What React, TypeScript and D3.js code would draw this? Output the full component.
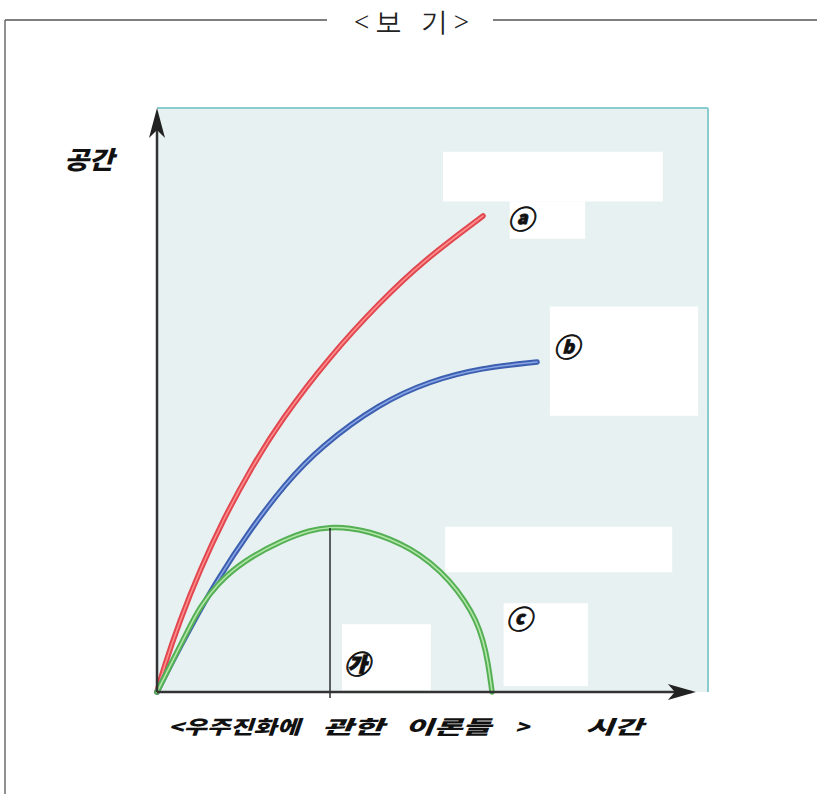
import React from "react";
import * as d3 from "d3";

// Data (time %, space %)
const redTime = [0, 1.09, 4.17, 7.8, 11.98, 16.88, 22.5, 31.4, 40.47, 48.28, 59.17];
const redSpace = [0, 3.77, 12.33, 20.89, 29.45, 38.01, 46.58, 57.53, 66.78, 73.8, 81.51];
const blueTime = [0, 2.36, 5.99, 10.89, 16.88, 23.23, 29.58, 40.47, 49.55, 58.62, 68.97];
const blueSpace = [0, 4.45, 10.96, 19.18, 27.74, 35.62, 41.95, 49.49, 53.25, 55.48, 56.51];
const greenTime = [0, 2.36, 5.63, 7.8, 10.89, 15.61, 22.87, 27.77, 31.4, 35.03, 38.66, 42.29, 45.92, 49.55, 53.18, 55.9, 57.89, 59.17, 60.07, 60.8];
const greenSpace = [0, 4.45, 10.62, 14.55, 18.49, 22.43, 26.03, 27.74, 28.25, 28.08, 27.4, 26.2, 24.57, 22.26, 19.01, 15.58, 12.33, 8.9, 5.14, 0];
const peakTime = 31.4;
const peakSpace = 28.25;

const curveLabels = ["ⓐ", "ⓑ", "ⓒ", "㉮"];
const labelPos = [
  [66.0, 81.2],
  [74.3, 59.4],
  [65.7, 12.8],
  [36.3, 5.0],
];
// white cover boxes [t0, s1, t1, s0]
const boxes = [
  [51.9, 92.5, 91.8, 84.0],
  [64.0, 84.0, 77.7, 77.6],
  [71.3, 66.0, 98.2, 47.3],
  [52.3, 28.3, 93.5, 20.5],
  [62.9, 15.2, 78.2, 1.0],
  [33.6, 11.6, 49.7, 0.3],
];

const title = "<보 기>";
const yTitle = "공간";
const xTitle = "시간";
const captionWords = ["<우주진화에", "관한", "이론들", ">"];

export default function App() {
  const W = 817, H = 794;
  const x = d3.scaleLinear().domain([0, 100]).range([157, 708]);
  const y = d3.scaleLinear().domain([0, 100]).range([692, 108]);
  const line = d3
    .line<[number, number]>()
    .x((d) => x(d[0]))
    .y((d) => y(d[1]))
    .curve(d3.curveBasis);
  const zip = (a: number[], b: number[]) => a.map((v, i) => [v, b[i]] as [number, number]);
  const series = [
    { p: line(zip(redTime, redSpace)), outer: "#e0474f", inner: "#ff8d8d" },
    { p: line(zip(blueTime, blueSpace)), outer: "#3d5fb0", inner: "#8aa6e6" },
    { p: line(zip(greenTime, greenSpace)), outer: "#55b055", inner: "#b2e6a8" },
  ];
  const fontKR = "'Noto Sans CJK KR', sans-serif";
  // caption word layout [x, width]
  const capLayout = [
    [168, 132],
    [322, 62],
    [405, 86],
    [515, 14],
  ];
  return (
    <svg width={W} height={H} style={{ position: "absolute", left: 0, top: 0, background: "#fff" }}>
      {/* frame */}
      <line x1={5} y1={20} x2={327} y2={20} stroke="#555" strokeWidth={1.3} />
      <line x1={493} y1={20} x2={817} y2={20} stroke="#555" strokeWidth={1.3} />
      <line x1={5} y1={20} x2={5} y2={794} stroke="#555" strokeWidth={1.3} />
      <text x={354} y={31} fontFamily="serif" fontSize={27} fill="#222" textLength={115} lengthAdjust="spacing">
        {title}
      </text>
      {/* plot area */}
      <rect x={x(0)} y={y(100)} width={x(100) - x(0)} height={y(0) - y(100)} fill="#e7f1f1" />
      <line x1={x(0)} y1={y(100)} x2={x(100)} y2={y(100)} stroke="#8ccbcf" strokeWidth={2} />
      <line x1={x(100)} y1={y(100)} x2={x(100)} y2={y(0)} stroke="#8ccbcf" strokeWidth={2} />
      {boxes.map((b, i) => (
        <rect key={i} x={x(b[0])} y={y(b[1])} width={x(b[2]) - x(b[0])} height={y(b[3]) - y(b[1])} fill="#ffffff" />
      ))}
      {/* curves */}
      {series.map((s, i) => (
        <g key={i}>
          <path d={s.p || ""} fill="none" stroke={s.outer} strokeWidth={5.5} strokeLinecap="round" />
          <path d={s.p || ""} fill="none" stroke={s.inner} strokeWidth={1.6} strokeLinecap="round" />
        </g>
      ))}
      <line x1={x(peakTime)} y1={y(peakSpace) + 1} x2={x(peakTime)} y2={y(0) + 6} stroke="#111" strokeWidth={1.3} />
      {/* axes */}
      <line x1={x(0)} y1={y(0)} x2={x(0)} y2={y(100) + 10} stroke="#333" strokeWidth={2.5} />
      <path d={`M${x(0)},${y(100)} L${x(0) - 8},${y(100) + 30} L${x(0)},${y(100) + 22} L${x(0) + 8},${y(100) + 30} Z`} fill="#222" />
      <line x1={x(0)} y1={y(0)} x2={x(97)} y2={y(0)} stroke="#333" strokeWidth={2.5} />
      <path d={`M${x(97.8)},${y(0)} L${x(97.8) - 28},${y(0) - 8} L${x(97.8) - 21},${y(0)} L${x(97.8) - 28},${y(0) + 8} Z`} fill="#222" />
      {/* curve labels */}
      {curveLabels.map((l, i) => (
        <text key={i} x={x(labelPos[i][0])} y={y(labelPos[i][1])} textAnchor="middle" dominantBaseline="central"
          fontFamily={fontKR} fontWeight={900} fontStyle="italic" fontSize={26} fill="#111" stroke="#111" strokeWidth={0.8}>
          {l}
        </text>
      ))}
      {/* axis titles */}
      <text x={64} y={169} fontFamily={fontKR} fontWeight={900} fontStyle="italic" fontSize={25} fill="#111" textLength={50} lengthAdjust="spacingAndGlyphs">
        {yTitle}
      </text>
      <text x={585} y={734} fontFamily={fontKR} fontWeight={900} fontStyle="italic" fontSize={19} fill="#111" textLength={58} lengthAdjust="spacingAndGlyphs">
        {xTitle}
      </text>
      {captionWords.map((w, i) => (
        <text key={i} x={capLayout[i][0]} y={734} fontFamily={fontKR} fontWeight={900} fontStyle="italic" fontSize={19} fill="#111"
          textLength={capLayout[i][1]} lengthAdjust="spacingAndGlyphs">
          {w}
        </text>
      ))}
    </svg>
  );
}
